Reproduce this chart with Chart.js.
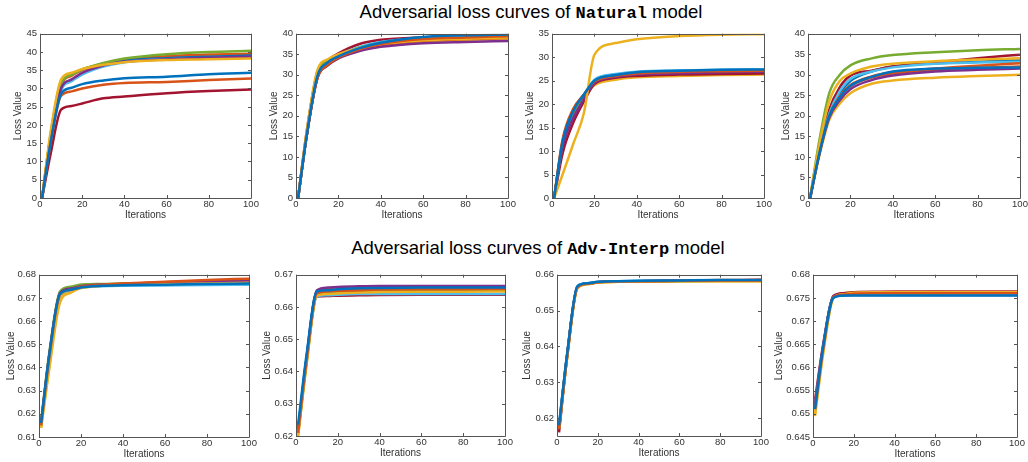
<!DOCTYPE html>
<html>
<head>
<meta charset="utf-8">
<script src="https://cdn.jsdelivr.net/npm/chart.js@4"></script>
<style>
  html, body { margin: 0; padding: 0; background: #fff; }
  body { width: 1028px; height: 462px; position: relative; overflow: hidden; }
  canvas { position: absolute; }
  .title {
    position: absolute; left: 0; width: 1028px; text-align: center;
    font-family: "Liberation Sans", Arial, sans-serif; font-size: 18.5px; color: #000;
    line-height: 22px; white-space: nowrap;
  }
  .title b { font-family: "Liberation Mono", "Courier New", monospace; font-size: 17px; font-weight: bold; }
</style>
</head>
<body>
<div class="title" style="top:1px; padding-left:17px;">Adversarial loss curves of <b>Natural</b> model</div>
<div class="title" style="top:237px; padding-left:24px;">Adversarial loss curves of <b>Adv-Interp</b> model</div>
<script>
// MATLAB default colour order
const palette = ['#0072BD', '#D95319', '#EDB120', '#7E2F8E', '#77AC30', '#4DBEEE', '#A2142F'];

const iters = [1, 5, 10, 15, 20, 30, 40, 60, 80, 100];
const xTicks = [0, 20, 40, 60, 80, 100];

// Natural model
const natural1 = [
    [0, 15, 28.5, 30.2, 31.2, 32.2, 32.8, 33.2, 33.9, 34.3],
    [0, 15, 28, 29.2, 30, 31, 31.5, 31.8, 32.3, 32.7],
    [0, 18, 32.5, 34.3, 35.3, 36.5, 37.2, 37.8, 38, 38.2],
    [0, 16, 30, 32.5, 34.3, 36.3, 37.3, 38, 38.4, 38.7],
    [0, 17, 31.2, 33.8, 35.2, 37, 38.2, 39.4, 40, 40.3],
    [0, 16, 29.5, 32, 33.8, 36, 37.2, 38, 38.3, 38.6],
    [0, 12, 24.2, 25.2, 25.9, 27.3, 27.8, 28.7, 29.3, 29.7],
    [0, 16, 29.8, 32.3, 34, 36.2, 37.5, 38.3, 38.7, 39],
    [0, 17, 31, 33.5, 35, 36.8, 37.9, 38.8, 39.3, 39.5],
    [0, 17.5, 32, 34, 35.3, 36.8, 37.8, 38.6, 39, 39.2]
];
const natural2 = [
    [0, 15, 29.5, 33, 34.5, 36.5, 37.8, 39.2, 39.6, 39.8],
    [0, 15, 29, 32.5, 34.2, 36.2, 37.5, 38.7, 39.1, 39.4],
    [0, 16, 31, 33.8, 35, 36.5, 37.5, 38.4, 38.8, 39.1],
    [0, 15, 29, 32.3, 34, 35.8, 36.8, 37.7, 38, 38.2],
    [0, 15.5, 30, 33.2, 34.7, 36.6, 37.7, 38.7, 39, 39.3],
    [0, 15.5, 30, 33, 34.8, 36.8, 38, 38.9, 39.2, 39.5],
    [0, 16, 30.5, 33.5, 35.2, 37.5, 38.5, 39.1, 39.3, 39.4],
    [0, 15, 29.3, 32.8, 34.4, 36.4, 37.6, 38.8, 39.2, 39.5],
    [0, 15, 29.2, 32.6, 34.2, 36, 37.2, 38.3, 38.7, 39],
    [0, 15, 29, 32.3, 34, 35.9, 37, 38, 38.5, 38.7]
];
const natural3 = [
    [0, 12, 18.5, 22, 25, 26.2, 26.8, 27.1, 27.3, 27.4],
    [0, 12.5, 19, 22, 24.8, 26, 26.5, 26.9, 27, 27.1],
    [0, 5, 11.5, 18, 30.5, 33, 33.8, 34.5, 34.8, 34.9],
    [0, 11, 17, 21, 24.5, 25.8, 26.3, 26.6, 26.8, 26.9],
    [0, 11.5, 18, 21.5, 24.7, 26, 26.5, 26.8, 26.9, 27],
    [0, 11.5, 18, 21.8, 25.2, 26.4, 26.9, 27.2, 27.3, 27.4],
    [0, 9.5, 16, 20.5, 24.3, 25.6, 26, 26.3, 26.4, 26.5],
    [0, 11, 17.5, 21.5, 25, 26.3, 26.8, 27, 27.1, 27.2],
    [0, 12, 18.8, 22, 24.8, 26, 26.5, 26.7, 26.8, 26.8],
    [0, 12, 18.5, 21.5, 24, 25.2, 25.7, 26, 26.2, 26.3]
];
const natural4 = [
    [0, 10, 20, 24.5, 27.3, 29.5, 30.8, 31.5, 31.7, 31.8],
    [0, 10, 20, 24.8, 27.5, 29.6, 30.6, 31.5, 32.2, 32.8],
    [0, 12, 23.5, 28.5, 30.3, 32, 32.7, 33.3, 33.7, 34],
    [0, 10, 19.5, 23.8, 26.5, 28.7, 29.8, 30.8, 31.2, 31.5],
    [0, 13, 25.5, 30, 32.3, 34, 34.8, 35.5, 36, 36.3],
    [0, 10.5, 20.5, 26, 29, 30.8, 31.8, 32.7, 33, 33.2],
    [0, 11, 21.5, 27, 29.8, 31, 32, 33, 34, 34.9],
    [0, 10.5, 20.5, 25.5, 28.5, 30.8, 32, 32.8, 33.2, 33.5],
    [0, 10, 20, 24.6, 27.2, 29.3, 30.3, 31.2, 31.7, 32],
    [0, 9.5, 19, 23, 25.5, 27.8, 28.6, 29.3, 29.7, 30]
];

// Adv-Interp model
const interp1 = [
    [0.616, 0.646, 0.6718, 0.6735, 0.6745, 0.6752, 0.6755, 0.6757, 0.676, 0.6762],
    [0.615, 0.645, 0.6715, 0.6735, 0.6748, 0.6757, 0.6762, 0.677, 0.6777, 0.6783],
    [0.614, 0.640, 0.668, 0.6722, 0.6742, 0.6752, 0.6757, 0.676, 0.6762, 0.6765],
    [0.616, 0.646, 0.672, 0.674, 0.675, 0.6757, 0.676, 0.6765, 0.677, 0.6773],
    [0.617, 0.647, 0.6728, 0.6748, 0.6758, 0.676, 0.6762, 0.6764, 0.6766, 0.6768],
    [0.615, 0.645, 0.6712, 0.6732, 0.6745, 0.675, 0.6752, 0.6754, 0.6756, 0.6757],
    [0.616, 0.646, 0.672, 0.674, 0.675, 0.6756, 0.676, 0.6767, 0.6773, 0.6778],
    [0.615, 0.645, 0.6716, 0.6736, 0.6746, 0.6752, 0.6754, 0.6756, 0.6758, 0.6759],
    [0.615, 0.645, 0.6718, 0.6738, 0.6749, 0.6756, 0.676, 0.6766, 0.6772, 0.6776],
    [0.614, 0.641, 0.669, 0.6728, 0.6745, 0.6755, 0.676, 0.6763, 0.6766, 0.6768]
];
const interp2 = [
    [0.6235, 0.645, 0.6648, 0.6652, 0.6655, 0.6658, 0.6659, 0.666, 0.666, 0.666],
    [0.621, 0.643, 0.6642, 0.6648, 0.665, 0.6652, 0.6654, 0.6655, 0.6655, 0.6656],
    [0.620, 0.642, 0.6635, 0.664, 0.6642, 0.6645, 0.6646, 0.6647, 0.6647, 0.6648],
    [0.622, 0.644, 0.6652, 0.666, 0.6662, 0.6664, 0.6665, 0.6665, 0.6665, 0.6665],
    [0.621, 0.643, 0.6638, 0.6642, 0.6645, 0.665, 0.6652, 0.6652, 0.6652, 0.6652],
    [0.621, 0.643, 0.6632, 0.6636, 0.6638, 0.664, 0.664, 0.664, 0.664, 0.664],
    [0.621, 0.643, 0.6632, 0.6634, 0.6635, 0.6636, 0.6637, 0.6638, 0.6638, 0.6638],
    [0.622, 0.644, 0.6645, 0.665, 0.6652, 0.6654, 0.6655, 0.6656, 0.6657, 0.6657],
    [0.621, 0.643, 0.665, 0.6656, 0.6658, 0.666, 0.6661, 0.6662, 0.6662, 0.6662],
    [0.620, 0.642, 0.6637, 0.6642, 0.6645, 0.6647, 0.6648, 0.6649, 0.665, 0.665]
];
const interp3 = [
    [0.618, 0.638, 0.6568, 0.6576, 0.658, 0.6582, 0.6583, 0.6584, 0.6585, 0.6585],
    [0.617, 0.6375, 0.6565, 0.6575, 0.6579, 0.6581, 0.6582, 0.6583, 0.6584, 0.6584],
    [0.617, 0.637, 0.6563, 0.6574, 0.6578, 0.658, 0.6581, 0.6582, 0.6582, 0.6582],
    [0.617, 0.6378, 0.6566, 0.6575, 0.6579, 0.6581, 0.6582, 0.6583, 0.6583, 0.6583],
    [0.617, 0.6376, 0.6565, 0.6575, 0.6579, 0.6581, 0.6582, 0.6582, 0.6583, 0.6583],
    [0.618, 0.638, 0.6567, 0.6576, 0.658, 0.6582, 0.6583, 0.6584, 0.6584, 0.6584],
    [0.616, 0.6372, 0.6564, 0.6575, 0.6579, 0.6581, 0.6582, 0.6583, 0.6584, 0.6585],
    [0.618, 0.6379, 0.6566, 0.6576, 0.6579, 0.6581, 0.6582, 0.6583, 0.6584, 0.6584],
    [0.617, 0.6374, 0.6564, 0.6575, 0.6579, 0.6581, 0.6582, 0.6584, 0.6585, 0.6586],
    [0.617, 0.637, 0.6562, 0.6573, 0.6578, 0.658, 0.6581, 0.6582, 0.6582, 0.6582]
];
const interp4 = [
    [0.651, 0.6645, 0.675, 0.6755, 0.6755, 0.6755, 0.6755, 0.6755, 0.6755, 0.6755],
    [0.651, 0.664, 0.6752, 0.6757, 0.6759, 0.676, 0.676, 0.676, 0.676, 0.676],
    [0.650, 0.6635, 0.675, 0.6758, 0.6761, 0.6762, 0.6762, 0.6762, 0.6762, 0.6762],
    [0.652, 0.6645, 0.6753, 0.6758, 0.676, 0.6761, 0.6761, 0.6761, 0.6761, 0.6761],
    [0.651, 0.664, 0.6752, 0.6757, 0.6759, 0.676, 0.676, 0.676, 0.6761, 0.6761],
    [0.652, 0.6645, 0.6752, 0.6756, 0.6757, 0.6757, 0.6757, 0.6757, 0.6757, 0.6757],
    [0.653, 0.665, 0.6754, 0.676, 0.6762, 0.6763, 0.6763, 0.6763, 0.6763, 0.6763],
    [0.651, 0.6643, 0.6751, 0.6755, 0.6756, 0.6756, 0.6756, 0.6756, 0.6756, 0.6756],
    [0.652, 0.6645, 0.6753, 0.6759, 0.6761, 0.6762, 0.6763, 0.6763, 0.6763, 0.6763],
    [0.6495, 0.663, 0.675, 0.676, 0.6762, 0.6762, 0.6759, 0.6763, 0.6759, 0.6762]
];

const yMins  = [0, 0, 0, 0, 0.61, 0.62, 0.615, 0.645];
const yMaxs  = [45, 40, 35, 40, 0.68, 0.67, 0.66, 0.68];
const ySteps = [5, 5, 5, 5, 0.01, 0.01, 0.01, 0.005];

const panels = [natural1, natural2, natural3, natural4, interp1, interp2, interp3, interp4];

// plot-area rectangles [left, top, right, bottom] and y-title offset from the axis
const plotRects = [
    [40, 33, 251, 198], [296, 33, 508, 198], [552, 33, 764, 198], [808, 33, 1020, 198],
    [39, 274, 249, 437], [296, 274, 505, 436], [557, 274, 761, 436], [813, 274, 1017, 437]
];
const yTitleOffsets = [22, 22, 22, 22, 28, 29, 30, 34];

const AXIS_W = 44, AXIS_H = 26, PAD_T = 8, PAD_R = 10;
const FONT = '"Liberation Sans", Arial, sans-serif';

// MATLAB-like box with inward ticks on all four sides
const boxTicks = {
    id: 'boxTicks',
    afterDraw(chart) {
        const {ctx, chartArea: a, scales: {x, y}} = chart;
        const len = 3;
        ctx.save();
        ctx.strokeStyle = '#555';
        ctx.lineWidth = 1;
        ctx.beginPath();
        x.ticks.forEach(t => {
            const px = Math.round(x.getPixelForValue(t.value)) + 0.5;
            ctx.moveTo(px, a.bottom); ctx.lineTo(px, a.bottom - len);
            ctx.moveTo(px, a.top); ctx.lineTo(px, a.top + len);
        });
        y.ticks.forEach(t => {
            const py = Math.round(y.getPixelForValue(t.value)) + 0.5;
            ctx.moveTo(a.left, py); ctx.lineTo(a.left + len, py);
            ctx.moveTo(a.right, py); ctx.lineTo(a.right - len, py);
        });
        ctx.rect(Math.round(a.left) + 0.5, Math.round(a.top) + 0.5,
                 Math.round(a.right - a.left), Math.round(a.bottom - a.top));
        ctx.stroke();
        ctx.restore();
    }
};

function fmt(v) {
    return String(parseFloat(Number(v).toFixed(4)));
}

panels.forEach((series, i) => {
    const [l, t, r, b] = plotRects[i];
    const left = l - AXIS_W, top = t - PAD_T;
    const w = r + PAD_R - left, h = b + AXIS_H - top;

    const canvas = document.createElement('canvas');
    canvas.width = w;
    canvas.height = h;
    canvas.style.left = left + 'px';
    canvas.style.top = top + 'px';
    canvas.style.width = w + 'px';
    canvas.style.height = h + 'px';
    document.body.appendChild(canvas);

    const datasets = series.map((vals, k) => ({
        data: vals.map((v, j) => ({x: iters[j], y: v})),
        borderColor: palette[k % palette.length],
        borderWidth: 2.5,
        pointRadius: 0,
        cubicInterpolationMode: 'monotone',
        fill: false
    }));

    new Chart(canvas, {
        type: 'line',
        data: {datasets: datasets},
        options: {
            responsive: false,
            animation: false,
            events: [],
            layout: {padding: {top: PAD_T, right: PAD_R, left: 0, bottom: 0}},
            plugins: {legend: {display: false}, tooltip: {enabled: false}},
            scales: {
                x: {
                    type: 'linear',
                    min: 0,
                    max: 100,
                    afterBuildTicks: scale => { scale.ticks = xTicks.map(v => ({value: v})); },
                    afterFit: scale => { scale.height = AXIS_H; },
                    grid: {display: false, drawTicks: false, tickLength: 0},
                    border: {display: false},
                    ticks: {
                        padding: 1,
                        maxRotation: 0,
                        color: '#333',
                        font: {family: FONT, size: 9.5}
                    },
                    title: {
                        display: true,
                        text: 'Iterations',
                        color: '#333',
                        padding: {top: 0, bottom: 3},
                        font: {family: FONT, size: 10}
                    }
                },
                y: {
                    type: 'linear',
                    min: yMins[i],
                    max: yMaxs[i],
                    afterFit: scale => { scale.width = AXIS_W; },
                    grid: {display: false, drawTicks: false, tickLength: 0},
                    border: {display: false},
                    ticks: {
                        stepSize: ySteps[i],
                        includeBounds: false,
                        padding: 3,
                        color: '#333',
                        font: {family: FONT, size: 9.5},
                        callback: v => fmt(v)
                    },
                    title: {
                        display: true,
                        text: 'Loss Value',
                        color: '#333',
                        padding: {top: AXIS_W - yTitleOffsets[i] - 6, bottom: 0},
                        font: {family: FONT, size: 10}
                    }
                }
            }
        },
        plugins: [boxTicks]
    });
});
</script>
</body>
</html>
